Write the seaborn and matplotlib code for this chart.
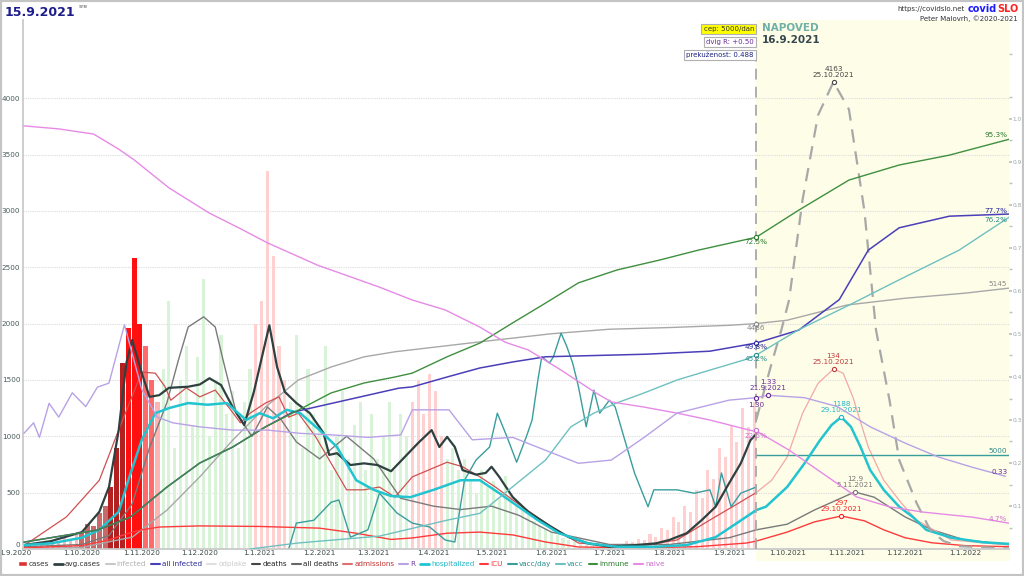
import numpy as np
import pandas as pd
import matplotlib
matplotlib.use("Agg")
import matplotlib.pyplot as plt
import matplotlib.dates as mdates
from matplotlib.lines import Line2D
from matplotlib.patches import Patch, Rectangle
import matplotlib.transforms as mtrans
import seaborn as sns

sns.set_theme(style="white")
plt.rcParams['font.family'] = ['DejaVu Sans']

# ---- podatki (odčitano s slike) ----
# dnevni primeri, vsak 3. dan od 1.9.2020
case_start = "2020-09-01"
cases = [30, 40, 35, 60, 50, 80, 70, 100, 90, 120,
         150, 220, 200, 320, 380,
         550, 900, 1650,
         1960, 2580, 2000, 1800, 1500,
         1300,
         1600, 2200, 900, 1500, 1800, 1100, 1700, 2400, 1000, 1500, 1900, 1200, 1400, 900, 1300, 1600,
         2000, 2200, 3350, 2600, 1800, 1500,
         1300, 1900, 900, 1600, 1200, 1100, 1800, 700, 1000, 1400, 800, 1100, 1300, 700, 1200, 800,
         1000, 1300, 700, 1200, 1000,
         1300, 1500, 1200, 1550, 1400, 1000,
         800, 900, 700, 800, 600, 500, 700, 550, 600, 450, 650, 500, 400, 350, 300, 250, 200, 180,
         150, 120, 100, 80, 60, 50, 40, 40, 35, 30,
         30, 45, 40, 70, 60, 90, 80, 130, 110, 190, 170, 280, 240, 380, 330, 520, 450, 700, 620,
         900, 820, 1100, 950, 1250, 1080, 1300]

avg_dates = ["2020-09-01", "2020-09-15", "2020-10-01", "2020-10-10", "2020-10-15", "2020-10-20",
             "2020-10-24", "2020-10-27", "2020-11-01", "2020-11-05", "2020-11-10", "2020-11-15",
             "2020-11-25", "2020-12-01", "2020-12-06", "2020-12-12", "2020-12-18", "2020-12-24",
             "2020-12-29", "2021-01-03", "2021-01-06", "2021-01-10", "2021-01-14", "2021-01-20",
             "2021-01-27", "2021-02-03", "2021-02-06", "2021-02-10", "2021-02-17", "2021-02-24",
             "2021-03-03", "2021-03-10", "2021-03-17", "2021-03-24", "2021-03-31", "2021-04-04",
             "2021-04-08", "2021-04-12", "2021-04-16", "2021-04-23", "2021-04-28", "2021-05-01",
             "2021-05-05", "2021-05-12", "2021-05-20", "2021-06-01", "2021-06-10", "2021-06-20",
             "2021-07-01", "2021-07-15", "2021-07-25", "2021-08-01", "2021-08-10", "2021-08-18",
             "2021-08-25", "2021-09-01", "2021-09-07", "2021-09-12", "2021-09-15"]
avg_cases = [35, 70, 150, 330, 550, 1050, 1650, 1855, 1560, 1350, 1365, 1430, 1440, 1460, 1515,
             1455, 1260, 1100, 1395, 1765, 1985, 1615, 1395, 1295, 1205, 1030, 835, 850, 745, 760,
             745, 690, 815, 940, 1055, 905, 995, 905, 700, 660, 675, 730, 640, 460, 330, 195, 105,
             50, 20, 35, 50, 80, 140, 260, 375, 585, 760, 965, 1020]

fc_dates = ["2021-09-15", "2021-09-23", "2021-09-28", "2021-10-02", "2021-10-09", "2021-10-17",
            "2021-10-25", "2021-11-02", "2021-11-10", "2021-11-16", "2021-11-23", "2021-11-28",
            "2021-12-07", "2021-12-14", "2021-12-21", "2021-12-29", "2022-01-24"]
fc_cases = [1145, 1650, 1943, 2210, 3100, 3850, 4145, 3900, 3000, 1943, 1320, 790, 408, 170, 70,
            25, 5]

hosp_dates = ["2020-09-01", "2020-09-15", "2020-10-01", "2020-10-10", "2020-10-20", "2020-10-25",
              "2020-11-01", "2020-11-08", "2020-11-15", "2020-11-25", "2020-12-05", "2020-12-15",
              "2020-12-25", "2021-01-01", "2021-01-08", "2021-01-15", "2021-01-22", "2021-02-01",
              "2021-02-10", "2021-02-20", "2021-03-01", "2021-03-10", "2021-03-20", "2021-04-01",
              "2021-04-15", "2021-04-25", "2021-05-05", "2021-05-15", "2021-05-25", "2021-06-05",
              "2021-06-20", "2021-07-05", "2021-07-25", "2021-08-10", "2021-08-25", "2021-09-05",
              "2021-09-15", "2021-09-20", "2021-10-01", "2021-10-10", "2021-10-18", "2021-10-24",
              "2021-10-29", "2021-11-03", "2021-11-08", "2021-11-13", "2021-11-20", "2021-11-28",
              "2021-12-05", "2021-12-12", "2021-12-25", "2022-01-10", "2022-01-24"]
hospitalized = [35, 50, 100, 170, 330, 610, 970, 1205, 1250, 1295, 1280, 1295, 1145, 1205, 1160,
                1235, 1205, 1055, 905, 610, 525, 470, 460, 525, 610, 610, 495, 375, 255, 140, 50,
                20, 20, 35, 105, 230, 345, 375, 550, 760, 965, 1100, 1171, 1085, 905, 700, 525,
                375, 285, 170, 100, 60, 45]

icu_dates = ["2020-09-01", "2020-10-01", "2020-10-15", "2020-10-25", "2020-11-01", "2020-11-10",
             "2020-12-01", "2021-01-01", "2021-02-01", "2021-02-20", "2021-03-10", "2021-03-21",
             "2021-04-08", "2021-04-25", "2021-05-12", "2021-05-29", "2021-06-15", "2021-07-15",
             "2021-08-15", "2021-09-10", "2021-09-15", "2021-10-01", "2021-10-15", "2021-10-29",
             "2021-11-10", "2021-11-20", "2021-12-01", "2021-12-15", "2022-01-01", "2022-01-24"]
icu = [10, 30, 80, 140, 170, 195, 205, 200, 185, 140, 85, 98, 140, 150, 125, 62, 18, 10, 20, 53,
       70, 150, 240, 293, 250, 170, 100, 55, 30, 20]

adm_dates = ["2020-09-01", "2020-09-23", "2020-10-10", "2020-10-20", "2020-11-01", "2020-11-08",
             "2020-11-13", "2020-11-16", "2020-11-24", "2020-12-01", "2020-12-09", "2020-12-17",
             "2020-12-22", "2020-12-27", "2021-01-04", "2021-01-11", "2021-01-16", "2021-01-21",
             "2021-01-30", "2021-02-07", "2021-02-15", "2021-02-24", "2021-03-04", "2021-03-12",
             "2021-03-21", "2021-04-08", "2021-04-16", "2021-04-25", "2021-05-03", "2021-05-12",
             "2021-05-29", "2021-06-15", "2021-07-15", "2021-08-05", "2021-08-22", "2021-09-06",
             "2021-09-11", "2021-09-15"]
admissions = [30, 285, 610, 1055, 1570, 1560, 1440, 1320, 1430, 1350, 1410, 1235, 1120, 1205, 1295,
              1350, 1170, 1205, 995, 760, 525, 525, 550, 460, 640, 770, 730, 640, 550, 435, 230, 53,
              20, 80, 257, 408, 460, 500]
adm_fc_dates = ["2021-09-15", "2021-09-23", "2021-10-01", "2021-10-09", "2021-10-17", "2021-10-25",
                "2021-10-30", "2021-11-04", "2021-11-12", "2021-11-20", "2021-11-29", "2021-12-07",
                "2021-12-25", "2022-01-24"]
adm_fc = [500, 610, 815, 1205, 1470, 1597, 1560, 1350, 905, 610, 410, 257, 80, 35]

death_dates = ["2020-09-01", "2020-10-01", "2020-10-15", "2020-10-27", "2020-11-05", "2020-11-14",
               "2020-11-20", "2020-11-25", "2020-12-03", "2020-12-09", "2020-12-13", "2020-12-20",
               "2020-12-28", "2021-01-05", "2021-01-12", "2021-01-20", "2021-02-01", "2021-02-15",
               "2021-03-01", "2021-03-15", "2021-04-01", "2021-04-15", "2021-05-01", "2021-05-15",
               "2021-06-01", "2021-07-01", "2021-08-01", "2021-09-01", "2021-09-15", "2021-10-01",
               "2021-10-15", "2021-11-05", "2021-11-15", "2021-12-01", "2021-12-15", "2022-01-01",
               "2022-01-24"]
deaths = [20, 40, 120, 400, 900, 1300, 1680, 1970, 2060, 1970, 1680, 1200, 1000, 1260, 1150, 950,
          800, 1000, 800, 450, 380, 350, 380, 300, 150, 40, 40, 100, 170, 220, 345, 506, 460, 285,
          170, 80, 40]

alld_dates = ["2020-09-01", "2020-10-01", "2020-10-27", "2020-11-14", "2020-12-01", "2020-12-18",
              "2021-01-04", "2021-01-21", "2021-02-07", "2021-02-24", "2021-03-12", "2021-04-01",
              "2021-05-01", "2021-06-01", "2021-07-01", "2021-08-01", "2021-09-01", "2021-09-15",
              "2021-10-01", "2021-11-01", "2021-12-01", "2022-01-01", "2022-01-24"]
all_deaths = [0, 15, 105, 345, 640, 965, 1260, 1500, 1615, 1705, 1750, 1790, 1850, 1910, 1950,
              1965, 1985, 2000, 2030, 2165, 2225, 2270, 2315]

vday_dates = ["2021-01-16", "2021-01-20", "2021-01-29", "2021-02-07", "2021-02-11", "2021-02-17",
              "2021-02-26", "2021-03-04", "2021-03-13", "2021-03-21", "2021-03-30", "2021-04-07",
              "2021-04-12", "2021-04-17", "2021-04-23", "2021-04-30", "2021-05-04", "2021-05-09",
              "2021-05-14", "2021-05-19", "2021-05-22", "2021-05-25", "2021-05-27", "2021-05-31",
              "2021-06-02", "2021-06-06", "2021-06-09", "2021-06-12", "2021-06-15", "2021-06-19",
              "2021-06-23", "2021-06-26", "2021-07-01", "2021-07-04", "2021-07-09", "2021-07-14",
              "2021-07-19", "2021-07-21", "2021-07-24", "2021-08-05", "2021-08-14", "2021-08-22",
              "2021-08-25", "2021-08-28", "2021-09-02", "2021-09-07", "2021-09-15"]
vacc_day = [0, 230, 255, 415, 435, 105, 170, 495, 320, 230, 195, 80, 62, 610, 790, 905, 1205, 995,
            770, 995, 1145, 1500, 1705, 1650, 1705, 1915, 1795, 1650, 1440, 1085, 1410, 1205, 1320,
            1260, 965, 675, 460, 375, 525, 525, 495, 525, 375, 675, 375, 495, 550]
vday_cap = 834  # 5000/dan

# deleži (desna os)
imm_dates = ["2020-09-01", "2020-10-09", "2020-10-26", "2020-11-14", "2020-12-01", "2020-12-18",
             "2021-01-04", "2021-01-21", "2021-02-07", "2021-02-24", "2021-03-12", "2021-03-21",
             "2021-04-08", "2021-04-25", "2021-05-12", "2021-05-29", "2021-06-15", "2021-07-05",
             "2021-07-27", "2021-08-16", "2021-09-15", "2021-10-07", "2021-11-02", "2021-11-28",
             "2021-12-24", "2022-01-24"]
immune = [0.016, 0.044, 0.074, 0.144, 0.20, 0.237, 0.284, 0.323, 0.363, 0.386, 0.40, 0.409, 0.447,
          0.479, 0.526, 0.572, 0.619, 0.649, 0.672, 0.695, 0.725, 0.788, 0.858, 0.893, 0.916, 0.953]

inf_dates = ["2020-09-01", "2020-10-09", "2020-10-26", "2020-11-14", "2020-12-01", "2020-12-18",
             "2021-01-04", "2021-01-18", "2021-03-14", "2021-03-21", "2021-04-08", "2021-04-25",
             "2021-05-12", "2021-05-29", "2021-06-15", "2021-07-20", "2021-08-22", "2021-09-15",
             "2021-10-07", "2021-10-28", "2021-11-12", "2021-11-28", "2021-12-24", "2022-01-24"]
all_infected = [0.016, 0.044, 0.074, 0.144, 0.20, 0.237, 0.284, 0.318, 0.374, 0.377, 0.40, 0.421,
                0.435, 0.447, 0.449, 0.453, 0.46, 0.479, 0.509, 0.58, 0.695, 0.747, 0.774, 0.779]

vacc_dates = ["2020-12-27", "2021-01-21", "2021-03-04", "2021-04-08", "2021-04-25", "2021-05-12",
              "2021-05-29", "2021-06-11", "2021-06-23", "2021-07-05", "2021-07-19", "2021-08-05",
              "2021-08-22", "2021-09-09", "2021-09-15", "2021-10-07", "2021-11-02", "2021-11-28",
              "2021-12-29", "2022-01-24"]
vacc = [0.0, 0.014, 0.03, 0.067, 0.083, 0.145, 0.207, 0.284, 0.316, 0.34, 0.363, 0.393, 0.416,
        0.44, 0.451, 0.51, 0.567, 0.626, 0.695, 0.772]

naive_dates = ["2020-09-01", "2020-09-19", "2020-10-07", "2020-10-20", "2020-10-28", "2020-11-15",
               "2020-12-06", "2020-12-22", "2021-01-05", "2021-01-31", "2021-03-04", "2021-03-21",
               "2021-04-07", "2021-04-25", "2021-05-08", "2021-05-20", "2021-06-06", "2021-06-24",
               "2021-07-02", "2021-07-19", "2021-08-05", "2021-08-22", "2021-09-11", "2021-09-16",
               "2021-10-02", "2021-10-19", "2021-11-06", "2021-11-23", "2021-12-10", "2022-01-05",
               "2022-01-24"]
naive = [0.984, 0.977, 0.965, 0.93, 0.905, 0.84, 0.781, 0.745, 0.712, 0.66, 0.609, 0.579, 0.556,
         0.516, 0.481, 0.463, 0.416, 0.363, 0.342, 0.33, 0.316, 0.30, 0.277, 0.272, 0.23, 0.177,
         0.121, 0.098, 0.086, 0.074, 0.06]

r_dates = ["2020-09-01", "2020-09-06", "2020-09-09", "2020-09-14", "2020-09-19", "2020-09-26",
           "2020-10-03", "2020-10-09", "2020-10-15", "2020-10-23", "2020-11-01", "2020-11-09",
           "2020-11-17", "2020-12-01", "2020-12-18", "2021-01-05", "2021-01-22", "2021-02-08",
           "2021-02-26", "2021-03-15", "2021-03-21", "2021-04-09", "2021-04-21", "2021-05-12",
           "2021-06-15", "2021-07-02", "2021-07-19", "2021-08-05", "2021-09-01", "2021-09-15",
           "2021-09-21", "2021-10-10", "2021-10-27", "2021-11-13", "2021-12-01", "2021-12-18",
           "2022-01-05", "2022-01-22"]
r_values = [0.86, 0.99, 0.81, 1.23, 1.06, 1.36, 1.19, 1.43, 1.48, 2.2, 1.40, 1.06, 0.99, 0.94,
            0.90, 0.90, 0.86, 0.84, 0.81, 0.84, 1.15, 1.15, 0.78, 0.81, 0.49, 0.53, 0.81, 1.11,
            1.27, 1.30, 1.33, 1.30, 1.19, 0.94, 0.74, 0.57, 0.44, 0.33]

forecast_day = "2021-09-15"

# ---- barve ----
C_AVG = "#2f4040"
C_HOSP = "#22c4d0"
C_ICU = "#ff3b3b"
C_ADM = "#d05050"
C_DEATH = "#7a7a7a"
C_ALLD = "#a8a8a8"
C_R = "#b8a2e6"
C_VDAY = "#3a9d9d"
C_VACC = "#6fc0c0"
C_IMM = "#3f8f3f"
C_INF = "#4a3fb8"
C_NAIVE = "#e68ae6"

W, H = 1024, 576
fig = plt.figure(figsize=(W / 100, H / 100), dpi=100)
ax = fig.add_axes([23 / W, 27 / H, 986 / W, 529 / H])
ax2 = ax.twinx()
ax3 = ax.twinx()

x0 = pd.Timestamp("2020-08-31 12:00")
x1 = pd.Timestamp("2022-01-23 20:00")
fday = pd.Timestamp(forecast_day)

# napoved - ozadje
ax.axvspan(fday, x1, color="#fdfde8", zorder=0)
ax.add_patch(Rectangle((mdates.date2num(fday), -0.02),
                       mdates.date2num(x1) - mdates.date2num(fday), 0.02,
                       transform=mtrans.blended_transform_factory(ax.transData, ax.transAxes),
                       color="#fdfde8", clip_on=False, zorder=0))

# stolpci
bar_dates = pd.date_range(case_start, periods=len(cases), freq="3D")
def bar_colour(day):
    if day < 30:
        return "#f4bcbc"
    if day < 45:
        return "#c86a6a"
    if day < 52:
        return "#b22020"
    if day < 61:
        return "#ff1010"
    if day < 67:
        return "#ff6a6a"
    if day < 70:
        return "#ffb4b4"
    if 120 <= day < 136 or 200 <= day < 218 or day >= 300:
        return "#ffd0d0"
    return "#d8f3d8"
bar_days = [(d - bar_dates[0]).days for d in bar_dates]
bar_cols = [bar_colour(k) for k in bar_days]
bar_w = [2.6 if 30 <= k < 70 else 1.6 for k in bar_days]
ax.bar(bar_dates, cases, width=bar_w, color=bar_cols, linewidth=0, zorder=1)

def draw(axis, dates, values, color, lw=1.0, **kw):
    sns.lineplot(x=pd.to_datetime(dates), y=values, ax=axis, color=color, linewidth=lw,
                 legend=False, **kw)

draw(ax, alld_dates, all_deaths, C_ALLD, 1.0)
draw(ax, death_dates, deaths, C_DEATH, 1.0)
draw(ax, icu_dates, icu, C_ICU, 1.0)
draw(ax, adm_dates, admissions, C_ADM, 0.9)
draw(ax, adm_fc_dates, adm_fc, "#f2a8a8", 0.9)
draw(ax, vday_dates, vacc_day, C_VDAY, 1.0)
ax.plot([fday, x1], [vday_cap, vday_cap], color=C_VDAY, lw=1.0)
draw(ax, avg_dates, avg_cases, C_AVG, 1.6)
draw(ax, hosp_dates, hospitalized, C_HOSP, 1.8)
draw(ax, fc_dates, fc_cases, "#a8a8a8", 1.6, linestyle=(0, (6, 4)))

draw(ax2, inf_dates, all_infected, C_INF, 1.1)
draw(ax2, imm_dates, immune, C_IMM, 1.0)
draw(ax2, vacc_dates, vacc, C_VACC, 1.0)
draw(ax2, naive_dates, naive, C_NAIVE, 1.0)
draw(ax3, r_dates, r_values, C_R, 1.0)

# osi
ax.set_xlim(x0, x1)
ax.set_ylim(0, 4694)
ax2.set_ylim(0, 529 / 430)
ax3.set_ylim(-0.568, -0.568 + 529 / 81)
ax3.set_axis_off()
for a in (ax, ax2, ax3):
    a.set_xlabel("")
    a.set_ylabel("")

months = pd.date_range("2020-09-01", "2022-01-01", freq="MS")
ax.set_xticks(months)
ax.set_xticklabels([f"{d.day}.{d.month}.{d.year}" for d in months])
ax.set_yticks(np.arange(0, 4001, 500))
ax.set_yticklabels([str(v) for v in range(0, 4001, 500)])
ax.tick_params(axis="x", direction="in", length=3, color="#c8c8c8", labelsize=5.2,
               labelcolor="#3c4a4a", pad=1)
ax.tick_params(axis="y", length=0, labelsize=5.2, labelcolor="#4a5a5a", pad=2)
ax.grid(axis="y", color="#dcdcdc", linestyle=(0, (1, 1)), linewidth=0.8)
for s in ["top", "right"]:
    ax.spines[s].set_visible(False)
ax.spines["left"].set_color("#c8c8c8")
ax.spines["bottom"].set_color("#c8c8c8")
# "0" malo višje, da se ne prekriva z datumom
zero_lab = ax.get_yticklabels()[0]
zero_lab.set_transform(zero_lab.get_transform()
                       + mtrans.ScaledTranslation(0, 3 / 72, fig.dpi_scale_trans))
first_x = ax.get_xticklabels()[0]
first_x.set_transform(first_x.get_transform()
                      + mtrans.ScaledTranslation(-6 / 72, 0, fig.dpi_scale_trans))

ax2.set_yticks(np.arange(0.1, 1.01, 0.1))
ax2.set_yticklabels([f"{v:.1f}" for v in np.arange(0.1, 1.01, 0.1)])
ax2.set_yticks(np.arange(0.05, 1.2, 0.1), minor=True)
ax2.tick_params(axis="y", which="both", direction="out", length=2, color="#c0c0c0",
                labelsize=4.2, labelcolor="#9aa6a6", pad=0.5)
for s in ax2.spines.values():
    s.set_visible(False)

# navpična črta napovedi
ax.axvline(fday, ymin=0, ymax=(549 - 60) / 529, color="#a8a8a8", lw=1.3,
           linestyle=(0, (6, 4)), zorder=5)

# oznake
def note(axis, date, val, txt, color, dx=0, dy=0, ha="center", va="bottom", size=5.2, marker=True):
    d = pd.Timestamp(date)
    if marker:
        axis.plot([d], [val], marker="o", ms=3, mfc="white", mec=color, mew=0.8, zorder=6)
    axis.annotate(txt, xy=(d, val), xytext=(dx, dy), textcoords="offset points", ha=ha, va=va,
                  color=color, fontsize=size, linespacing=1.0, zorder=7)

note(ax, "2021-10-25", 4145, "4163\n25.10.2021", "#444444", dy=3)
note(ax, "2021-10-25", 1597, "134\n25.10.2021", "#c03a3a", dy=3)
note(ax, "2021-10-29", 1171, "1188\n29.10.2021", "#20b6c4", dy=3)
note(ax, "2021-11-05", 506, "12.9\n5.11.2021", "#777777", dy=3)
note(ax, "2021-10-29", 293, "297\n29.10.2021", "#ff2020", dy=3)
note(ax3, "2021-09-21", 1.33, "1.33\n21.9.2021", "#6a2a9a", dy=3)
note(ax3, "2021-09-15", 1.30, "1.30", "#6a2a9a", va="top", dy=-3)
note(ax, "2021-09-15", 2000, "4486", "#888888", va="top", dy=-1)
note(ax2, "2021-09-15", 0.479, "49.8%", "#2a2a9a", va="top", dy=-1)
note(ax2, "2021-09-15", 0.451, "45.2%", "#2a8a8a", va="top", dy=-1)
note(ax2, "2021-09-15", 0.725, "72.5%", "#2a7a2a", va="top", dy=-1)
note(ax2, "2021-09-15", 0.277, "22.5%", "#d070d0", va="top", dy=-2)

end = "2022-01-23"
note(ax2, end, 0.953, "95.3%", "#2a7a2a", ha="right", dy=1, marker=False)
note(ax2, end, 0.779, "77.7%", "#2a2a9a", ha="right", dy=0, marker=False)
note(ax2, end, 0.772, "76.2%", "#2a8a8a", ha="right", va="top", dy=0, marker=False)
note(ax, end, 2315, "5145", "#888888", ha="right", dy=1, marker=False)
note(ax, end, vday_cap, "5000", "#2a8a8a", ha="right", dy=1, marker=False)
note(ax3, end, 0.33, "0.33", "#6a2a9a", ha="right", dy=1, marker=False)
note(ax2, end, 0.06, "4.7%", "#d070d0", ha="right", dy=1, marker=False)

box = dict(boxstyle="square,pad=0.3", fc="white", ec="#b0b0b0", lw=0.8)
fig.text(754 / W, 1 - 29 / H, "cep: 5000/dan", ha="right", va="center", fontsize=5,
         color="#333333", bbox=dict(box, fc="#ffff00"))
fig.text(754 / W, 1 - 42 / H, "dvig R: +0.50", ha="right", va="center", fontsize=5,
         color="#6a2a9a", bbox=box)
fig.text(754 / W, 1 - 55 / H, "prekuženost: 0.488", ha="right", va="center", fontsize=5,
         color="#1a237e", bbox=box)
fig.text(762 / W, 1 - 28 / H, "NAPOVED", ha="left", va="center", fontsize=7.5,
         fontweight="bold", color="#6fb0a8")
fig.text(762 / W, 1 - 40 / H, "16.9.2021", ha="left", va="center", fontsize=7.5,
         fontweight="bold", color="#37474f")

title = fig.text(5 / W, 1 - 12 / H, "15.9.2021", ha="left", va="center", fontsize=9,
                 fontweight="bold", color="#1c1c8c")
slo = fig.text(1018 / W, 1 - 9 / H, "SLO", ha="right", va="center", fontsize=7,
               fontweight="bold", color="#ff2020")
fig.canvas.draw()
rend = fig.canvas.get_renderer()
tb = title.get_window_extent(rend)
fig.text((tb.x1 + 3) / W, 1 - 7 / H, "sre", ha="left", va="center", fontsize=4.2,
         color="#555555")
sb = slo.get_window_extent(rend)
covid = fig.text(sb.x0 / W, 1 - 9 / H, "covid", ha="right", va="center", fontsize=7,
                 fontweight="bold", color="#1a1aff")
cb = covid.get_window_extent(rend)
fig.text((cb.x0 - 3) / W, 1 - 9 / H, "https://covidslo.net", ha="right", va="center",
         fontsize=5, color="#333333")
fig.text(1018 / W, 1 - 19 / H, "Peter Malovrh, ©2020-2021", ha="right", va="center",
         fontsize=5, color="#333333")

# legenda
handles = [Patch(facecolor="#e03030"),
           Line2D([], [], color=C_AVG, lw=2),
           Line2D([], [], color="#c8c8c8", lw=1.5),
           Line2D([], [], color=C_INF, lw=1.5),
           Line2D([], [], color="#e0e0e0", lw=1.5),
           Line2D([], [], color="#444444", lw=1.5),
           Line2D([], [], color="#666666", lw=1.5),
           Line2D([], [], color="#e07070", lw=1.5),
           Line2D([], [], color=C_R, lw=1.5),
           Line2D([], [], color=C_HOSP, lw=2),
           Line2D([], [], color=C_ICU, lw=1.5),
           Line2D([], [], color=C_VDAY, lw=1.5),
           Line2D([], [], color=C_VACC, lw=1.5),
           Line2D([], [], color=C_IMM, lw=1.5),
           Line2D([], [], color=C_NAIVE, lw=1.5)]
labels = ["cases", "avg.cases", "infected", "all infected", "odplake", "deaths", "all deaths",
          "admissions", "R", "hospitalized", "ICU", "vacc/day", "vacc", "immune", "naive"]
label_cols = ["#333333", "#333333", "#b0b0b0", "#2a2a9a", "#cccccc", "#222222", "#222222",
              "#c03030", "#6a3aa0", "#20b8c8", "#ff3030", "#2a8a8a", "#2a9a9a", "#2a7a2a",
              "#d070d0"]
fig.legend(handles, labels, loc="center left", bbox_to_anchor=(18 / W, 12 / H), ncol=15,
           frameon=False, fontsize=5.2, handlelength=1.2, handleheight=0.6, handletextpad=0.3,
           columnspacing=0.7, labelcolor=label_cols, borderaxespad=0, borderpad=0)

fig.add_artist(Rectangle((0, 0), 1, 1, transform=fig.transFigure, fill=False, ec="#c4c4c4",
                         lw=3))

fig.savefig("out.png", dpi=100)
